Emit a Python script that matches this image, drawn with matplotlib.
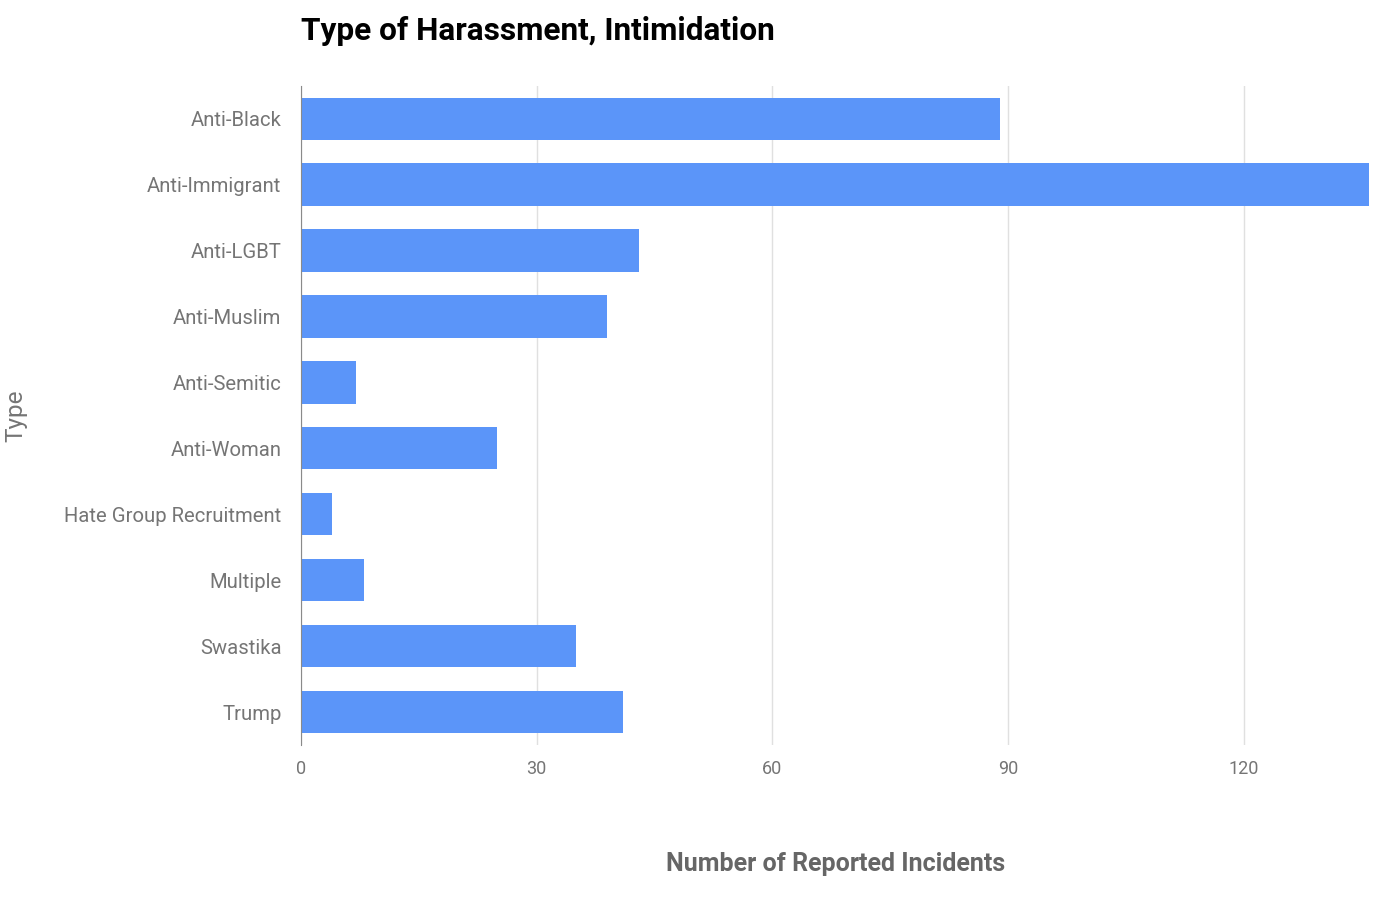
import matplotlib.pyplot as plt
import numpy as np

plt.rcParams["font.family"] = ["Roboto", "DejaVu Sans"]

categories = [
    "Anti-Black",
    "Anti-Immigrant",
    "Anti-LGBT",
    "Anti-Muslim",
    "Anti-Semitic",
    "Anti-Woman",
    "Hate Group Recruitment",
    "Multiple",
    "Swastika",
    "Trump",
]
incidents = [89, 136, 43, 39, 7, 25, 4, 8, 35, 41]
x_ticks = [0, 30, 60, 90, 120]

fig = plt.figure(figsize=(14, 9.02), dpi=100)
ax = fig.add_axes([0.215, 0.174, 0.763, 0.731])

y = np.arange(len(categories))
ax.barh(y, incidents, height=0.64, color="#5b95f9", zorder=3)

ax.set_xlim(0, 136)
ax.set_ylim(len(categories) - 0.5, -0.5)
ax.set_yticks(y)
ax.set_yticklabels(categories)
ax.set_xticks(x_ticks)

ax.grid(axis="x", color="#e0e0e0", linewidth=1, zorder=0)
for side in ["top", "right", "bottom"]:
    ax.spines[side].set_visible(False)
ax.spines["left"].set_color("#8a8a8a")
ax.spines["left"].set_zorder(4)

ax.tick_params(axis="y", length=0, pad=14, labelsize=14.6, labelcolor="#757575")
ax.tick_params(axis="x", length=0, pad=11, labelsize=13, labelcolor="#757575")

# axis titles and chart title sit at fixed figure positions
ax_pos = ax.get_position()
fig.text(16 / 1400, (ax_pos.y0 + ax_pos.y1) / 2, "Type", rotation=90,
         fontsize=17.5, color="#757575", ha="center", va="center")
fig.text((ax_pos.x0 + ax_pos.x1) / 2, 1 - 864 / 902, "Number of Reported Incidents",
         fontsize=18, fontweight="bold", color="#666666", ha="center", va="center")
fig.text(0.215, 1 - 31 / 902, "Type of Harassment, Intimidation", fontsize=22.7,
         fontweight="bold", color="#000000", ha="left", va="center")

fig.savefig("out.png", dpi=100)
